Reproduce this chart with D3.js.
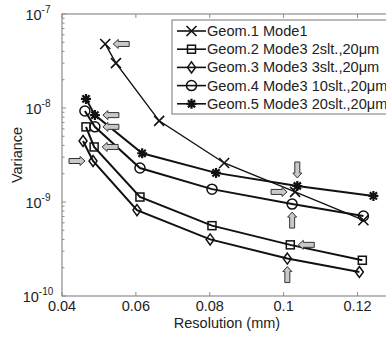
<!DOCTYPE html>
<html lang="en">
<head>
    <meta charset="UTF-8">
    <title>Variance vs Resolution</title>
    <style>
        body { margin: 0; background: #fff; }
        svg { display: block; font-family: "Liberation Sans", Arial, sans-serif; }
    </style>
</head>
<body>
    <div id="chartContainer"></div>

    <script src="https://d3js.org/d3.v7.min.js"></script>
    <script>
        // Series names, as in the legend
        const seriesNames = [
            "Geom.1 Mode1",
            "Geom.2 Mode3 2slt.,20\u03bcm",
            "Geom.3 Mode3 3slt.,20\u03bcm",
            "Geom.4 Mode3 10slt.,20\u03bcm",
            "Geom.5 Mode3 20slt.,20\u03bcm"
        ];
        const seriesMarkers = ["cross", "square", "diamond", "circle", "star"];

        // Resolution (mm) for each series
        const res1 = [0.0517, 0.0546, 0.0663, 0.0839, 0.1031, 0.1216];
        const res2 = [0.0465, 0.0487, 0.0611, 0.0806, 0.1018, 0.1213];
        const res3 = [0.0457, 0.0484, 0.0603, 0.0801, 0.1010, 0.1205];
        const res4 = [0.0462, 0.0489, 0.0611, 0.0806, 0.1023, 0.1216];
        const res5 = [0.0465, 0.0489, 0.0617, 0.0817, 0.1037, 0.1243];

        // Variance for each series
        const var1 = [4.8e-8, 3.0e-8, 7.3e-9, 2.6e-9, 1.28e-9, 6.4e-10];
        const var2 = [6.3e-9, 3.85e-9, 1.13e-9, 5.6e-10, 3.5e-10, 2.4e-10];
        const var3 = [4.45e-9, 2.73e-9, 8.2e-10, 4.0e-10, 2.5e-10, 1.8e-10];
        const var4 = [9.3e-9, 6.3e-9, 2.3e-9, 1.37e-9, 9.5e-10, 7.1e-10];
        const var5 = [1.25e-8, 8.4e-9, 3.3e-9, 2.04e-9, 1.48e-9, 1.16e-9];

        const xTicks = [0.04, 0.06, 0.08, 0.1, 0.12];
        const xTickLabels = ["0.04", "0.06", "0.08", "0.1", "0.12"];
        const yTickExps = [-10, -9, -8, -7];

        // Highlight arrows: [series index, point index, direction it points]
        const arrowSeries = [0, 4, 3, 1, 2, 4, 0, 3, 1, 2];
        const arrowPoints = [0, 1, 1, 1, 1, 4, 4, 4, 4, 4];
        const arrowDirs = ["left", "left", "left", "left", "right", "down", "right", "up", "left", "up"];

        const allRes = [res1, res2, res3, res4, res5];
        const allVar = [var1, var2, var3, var4, var5];
        const series = seriesNames.map((name, i) => ({
            name: name,
            marker: seriesMarkers[i],
            points: allRes[i].map((r, j) => ({ r: r, v: allVar[i][j] }))
        }));

        const width = 386, height = 337;
        const margin = { top: 14, left: 62, bottom: 41 };
        const axisGrey = "#8c8c8c";

        const svg = d3.select("#chartContainer")
            .append("svg")
                .attr("width", width)
                .attr("height", height);

        // Plot runs past the right edge of the picture (0.13 is cropped off)
        const x = d3.scaleLinear()
            .domain([0.04, 0.13])
            .range([margin.left, margin.left + 0.09 * 3694]);

        const y = d3.scaleLog()
            .domain([1e-10, 1e-7])
            .range([height - margin.bottom, margin.top]);

        const x0 = x.range()[0], x1 = x.range()[1];
        const y0 = y.range()[0], y1 = y.range()[1];

        // Frame
        svg.append("rect")
            .attr("x", x0).attr("y", y1)
            .attr("width", x1 - x0).attr("height", y0 - y1)
            .attr("fill", "none")
            .attr("stroke", axisGrey)
            .attr("stroke-width", 1.2);

        // x ticks, on bottom and top, pointing inward
        xTicks.forEach(t => {
            svg.append("line")
                .attr("x1", x(t)).attr("x2", x(t))
                .attr("y1", y0).attr("y2", y0 - 4)
                .attr("stroke", axisGrey);
            svg.append("line")
                .attr("x1", x(t)).attr("x2", x(t))
                .attr("y1", y1).attr("y2", y1 + 4)
                .attr("stroke", axisGrey);
        });

        svg.selectAll(".xlab")
            .data(xTicks)
            .enter().append("text")
                .attr("x", d => x(d))
                .attr("y", y0 + 15)
                .attr("text-anchor", "middle")
                .attr("font-size", 14.5)
                .attr("fill", "#222")
                .text((d, i) => xTickLabels[i]);

        // y ticks (log, with minor ticks)
        yTickExps.forEach(e => {
            const v = Math.pow(10, e);
            svg.append("line")
                .attr("x1", x0).attr("x2", x0 + 4)
                .attr("y1", y(v)).attr("y2", y(v))
                .attr("stroke", axisGrey);
            if (e < -7) {
                for (let m = 2; m <= 9; m++) {
                    svg.append("line")
                        .attr("x1", x0).attr("x2", x0 + 2.5)
                        .attr("y1", y(m * v)).attr("y2", y(m * v))
                        .attr("stroke", axisGrey);
                }
            }
            const lab = svg.append("text")
                .attr("x", x0 - 24)
                .attr("y", y(v) + 6)
                .attr("text-anchor", "middle")
                .attr("font-size", 14.5)
                .attr("fill", "#222");
            lab.append("tspan").text("10");
            lab.append("tspan")
                .attr("dy", -7)
                .attr("font-size", 10)
                .text(String(e));
        });

        // Axis titles
        svg.append("text")
            .attr("x", 227)
            .attr("y", 328)
            .attr("text-anchor", "middle")
            .attr("font-size", 14.5)
            .attr("fill", "#222")
            .text("Resolution (mm)");

        svg.append("text")
            .attr("transform", "translate(22," + 155 + ") rotate(-90)")
            .attr("text-anchor", "middle")
            .attr("font-size", 14.5)
            .attr("fill", "#222")
            .text("Variance");

        // Markers
        function drawMarker(g, type, cx, cy) {
            const s = g.append("g").attr("transform", "translate(" + cx + "," + cy + ")")
                .attr("fill", "none").attr("stroke", "#111").attr("stroke-width", 1.5);
            if (type === "cross") {
                s.append("path").attr("d", "M-5,-5L5,5M-5,5L5,-5").attr("stroke-width", 1.6);
            } else if (type === "square") {
                s.append("rect").attr("x", -4).attr("y", -4).attr("width", 8).attr("height", 8);
            } else if (type === "diamond") {
                s.append("path").attr("d", "M0,-5.5L4,0L0,5.5L-4,0Z");
            } else if (type === "circle") {
                s.append("circle").attr("r", 5);
            } else if (type === "star") {
                s.append("path")
                    .attr("d", "M-5,0L5,0M0,-5L0,5M-3.6,-3.6L3.6,3.6M-3.6,3.6L3.6,-3.6")
                    .attr("stroke-width", 2.2);
            }
        }

        const line = d3.line()
            .x(d => x(d.r))
            .y(d => y(d.v));

        series.forEach(s => {
            svg.append("path")
                .datum(s.points)
                .attr("fill", "none")
                .attr("stroke", "#111")
                .attr("stroke-width", s.marker === "cross" ? 1.4 : 2)
                .attr("d", line);
            s.points.forEach(p => drawMarker(svg, s.marker, x(p.r), y(p.v)));
        });

        // Block arrows pointing at highlighted points
        function drawArrow(dir, tx, ty) {
            // arrow drawn pointing left, tip at origin, then rotated
            const rot = { left: 0, up: 90, right: 180, down: 270 }[dir];
            svg.append("path")
                .attr("transform", "translate(" + tx + "," + ty + ") rotate(" + rot + ")")
                .attr("d", "M0,0L5,-4.5L5,-2.5L16,-2.5L16,2.5L5,2.5L5,4.5Z")
                .attr("fill", "#c8c8c8")
                .attr("stroke", "#333")
                .attr("stroke-width", 1);
        }

        const gap = 8;
        arrowSeries.forEach((si, k) => {
            const p = series[si].points[arrowPoints[k]];
            const px = x(p.r), py = y(p.v);
            const dir = arrowDirs[k];
            if (dir === "left") drawArrow(dir, px + gap, py);
            else if (dir === "right") drawArrow(dir, px - gap, py);
            else if (dir === "up") drawArrow(dir, px, py + gap);
            else drawArrow(dir, px, py - gap);
        });

        // Legend
        const legX = 172, legY = 20, legH = 94, rowH = 18.2;
        svg.append("rect")
            .attr("x", legX).attr("y", legY)
            .attr("width", 240).attr("height", legH)
            .attr("fill", "#fff")
            .attr("stroke", axisGrey)
            .attr("stroke-width", 1.2);

        series.forEach((s, i) => {
            const ly = legY + 11 + i * rowH;
            svg.append("line")
                .attr("x1", legX + 5).attr("x2", legX + 34)
                .attr("y1", ly).attr("y2", ly)
                .attr("stroke", "#111").attr("stroke-width", 1.6);
            drawMarker(svg, s.marker, legX + 19.5, ly);
            svg.append("text")
                .attr("x", legX + 35)
                .attr("y", ly + 5)
                .attr("font-size", 14.6)
                .attr("fill", "#222")
                .text(s.name);
        });
    </script>
</body>
</html>
